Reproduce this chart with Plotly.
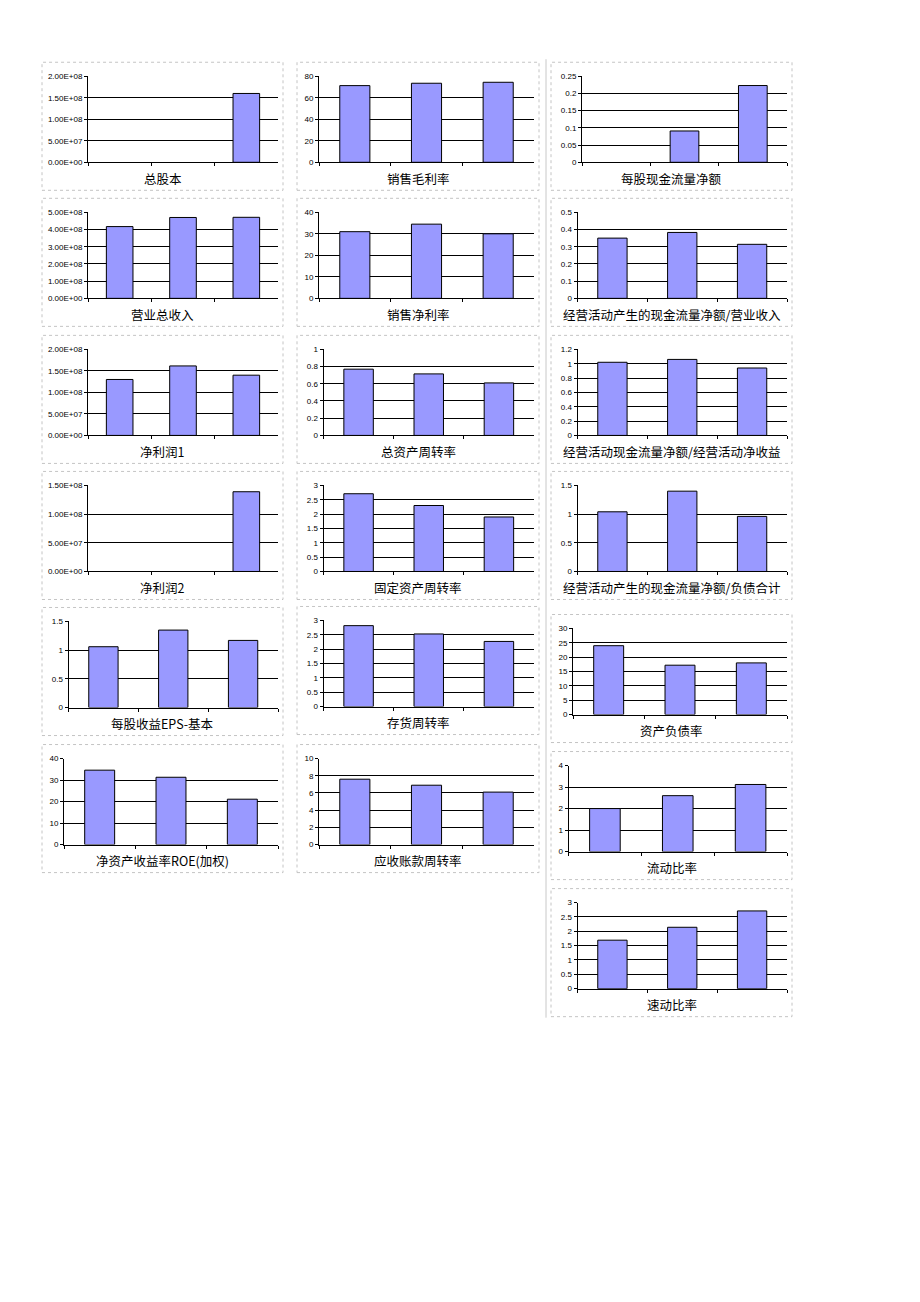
import plotly.graph_objects as go

W, H = 920, 1302

periods = ["期1", "期2", "期3"]

titles = [
    "总股本", "营业总收入", "净利润1", "净利润2", "每股收益EPS-基本", "净资产收益率ROE(加权)",
    "销售毛利率", "销售净利率", "总资产周转率", "固定资产周转率", "存货周转率", "应收账款周转率",
    "每股现金流量净额", "经营活动产生的现金流量净额/营业收入", "经营活动现金流量净额/经营活动净收益",
    "经营活动产生的现金流量净额/负债合计", "资产负债率", "流动比率", "速动比率",
]

total_shares = [None, None, 1.6e8]
total_revenue = [4.17e8, 4.70e8, 4.71e8]
net_profit_1 = [1.30e8, 1.615e8, 1.40e8]
net_profit_2 = [None, None, 1.39e8]
eps_basic = [1.06, 1.35, 1.17]
roe_weighted = [34.6, 31.3, 21.1]
gross_margin = [71.3, 73.5, 74.4]
net_margin = [31.0, 34.5, 30.0]
total_asset_turnover = [0.77, 0.715, 0.61]
fixed_asset_turnover = [2.71, 2.30, 1.90]
inventory_turnover = [2.82, 2.53, 2.27]
receivable_turnover = [7.6, 6.9, 6.1]
cashflow_per_share = [None, 0.091, 0.223]
ocf_to_revenue = [0.35, 0.383, 0.314]
ocf_to_op_income = [1.02, 1.06, 0.94]
ocf_to_liabilities = [1.04, 1.40, 0.96]
debt_ratio = [24.0, 17.2, 18.0]
current_ratio = [2.0, 2.6, 3.12]
quick_ratio = [1.69, 2.14, 2.71]

series = [
    total_shares, total_revenue, net_profit_1, net_profit_2, eps_basic, roe_weighted,
    gross_margin, net_margin, total_asset_turnover, fixed_asset_turnover, inventory_turnover, receivable_turnover,
    cashflow_per_share, ocf_to_revenue, ocf_to_op_income, ocf_to_liabilities, debt_ratio, current_ratio, quick_ratio,
]

y_max = [2e8, 5e8, 2e8, 1.5e8, 1.5, 40,
         80, 40, 1, 3, 3, 10,
         0.25, 0.5, 1.2, 1.5, 30, 4, 3]
y_step = [5e7, 1e8, 5e7, 5e7, 0.5, 10,
          20, 10, 0.2, 0.5, 0.5, 2,
          0.05, 0.1, 0.2, 0.5, 5, 1, 0.5]
sci_axis = [True, True, True, True, False, False] + [False] * 13

# layout geometry (pixels)
cols = [(42, 283), (297, 539), (551, 792)]
col_tops = [
    [63, 199, 336, 472, 608, 745],
    [63, 199, 336, 472, 607, 745],
    [63, 199, 336, 472, 615, 752, 889],
]

KY = 954.0 / 947.0


def py(v):
    """pixel row -> paper y (with small vertical calibration)"""
    return 1 - (651 + (v - 651) * KY) / H


def fmt_tick(v, sci):
    if sci:
        return f"{v:.2E}"
    r = round(v, 4)
    if abs(r - round(r)) < 1e-9:
        return str(int(round(r)))
    return f"{r:g}"


fig = go.Figure()
shapes = []
annotations = []

idx = 0
for c, tops in enumerate(col_tops):
    pl, pr = cols[c]
    for top in tops:
        i = idx + 1
        sci = sci_axis[idx]
        n = int(round(y_max[idx] / y_step[idx]))
        tv = [k * y_step[idx] for k in range(n + 1)]
        tt = [fmt_tick(v, sci) for v in tv]
        maxlen = max(len(t) for t in tt)
        off = 46 if sci else maxlen * 4.5 + 13
        x0 = pl + off
        x1 = pr - 5
        y0 = top + 14
        y1 = top + 100
        xa = "x" if i == 1 else f"x{i}"
        ya = "y" if i == 1 else f"y{i}"
        fig.add_trace(go.Bar(
            x=periods, y=series[idx], xaxis=xa, yaxis=ya,
            marker=dict(color="#9999FF", line=dict(color="#000000", width=1)),
            width=0.42, showlegend=False, hoverinfo="y",
        ))
        xk = "xaxis" if i == 1 else f"xaxis{i}"
        yk = "yaxis" if i == 1 else f"yaxis{i}"
        fig.layout[xk] = dict(
            domain=[x0 / W, x1 / W], anchor=ya, type="category",
            showticklabels=False, showgrid=False, zeroline=False,
            showline=True, linecolor="#000000", linewidth=1,
            ticks="outside", tickson="boundaries", ticklen=3, tickcolor="#000000",
            range=[-0.5, 2.5], fixedrange=True,
        )
        fig.layout[yk] = dict(
            domain=[py(y1), py(y0)], anchor=xa,
            range=[0, y_max[idx]], tickmode="array", tickvals=tv, ticktext=tt,
            showgrid=True, gridcolor="#000000", gridwidth=1, zeroline=False,
            showline=True, linecolor="#000000", linewidth=1,
            ticks="outside", ticklen=3, tickcolor="#000000",
            tickfont=dict(family="Liberation Sans, Arial", size=8, color="#000000"),
            fixedrange=True,
        )
        # panel border
        shapes.append(dict(type="rect", xref="paper", yref="paper",
                           x0=pl / W, x1=pr / W, y0=py(top + 128), y1=py(top),
                           line=dict(color="#C4C4C4", width=1, dash="dot"), layer="below"))
        annotations.append(dict(
            text=titles[idx], xref="paper", yref="paper",
            x=(pl + pr) / 2 / W, y=py(top + 116), xanchor="center", yanchor="middle",
            showarrow=False,
            font=dict(family="Noto Sans CJK SC", size=12.5, color="#000000"),
        ))
        idx += 1

# vertical separator between columns 2 and 3
shapes.append(dict(type="line", xref="paper", yref="paper",
                   x0=546 / W, x1=546 / W, y0=py(1018), y1=py(60),
                   line=dict(color="#C8C8C8", width=1)))

fig.update_layout(
    width=W, height=H, margin=dict(l=0, r=0, t=0, b=0),
    paper_bgcolor="#FFFFFF", plot_bgcolor="#FFFFFF",
    shapes=shapes, annotations=annotations, bargap=0.58,
    font=dict(family="Liberation Sans, Arial", color="#000000"),
)

fig.write_html("out.html")
